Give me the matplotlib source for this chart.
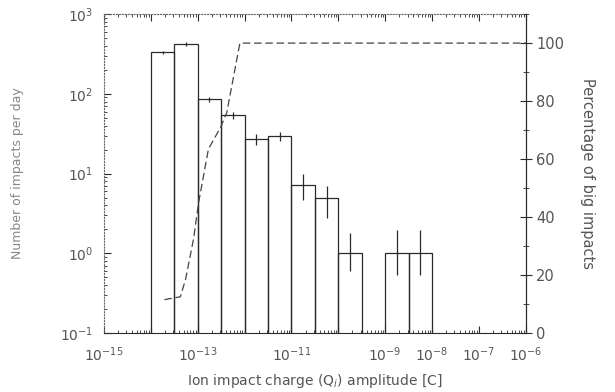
import numpy as np
import matplotlib
matplotlib.use("Agg")
import matplotlib.pyplot as plt
from matplotlib.ticker import FixedLocator, LogLocator, MultipleLocator, NullFormatter

# histogram of impact charges, half-decade bins (log10 of charge in C)
bin_edges_log = [-14.0, -13.5, -13.0, -12.5, -12.0, -11.5, -11.0,
                 -10.5, -10.0, -9.5, -9.0, -8.5, -8.0]
counts = [334, 421, 86, 54, 27, 29.5, 7.2, 4.9, 1.0, 0, 1.0, 1.0]
err_low = [15, 20, 6, 5, 4, 4, 2.6, 2.1, 0.4, 0, 0.47, 0.47]
err_high = [15, 20, 6, 5, 4, 4, 2.6, 2.1, 0.8, 0, 0.95, 0.95]

# percentage of big impacts (right axis)
pct_logq = [-13.71, -13.37, -13.26, -13.09, -12.98, -12.77, -12.51, -12.38, -12.10, -6.0]
pct_values = [11.5, 12.5, 18.4, 32.3, 45, 63.5, 71, 76, 100, 100]

xtick_labeled = [-15, -13, -11, -9, -8, -7, -6]

ink = "#2a2a2a"
txt = "#555555"
plt.rcParams["font.family"] = "DejaVu Sans"

fig = plt.figure(figsize=(6.15, 3.92), dpi=100)
ax = fig.add_axes([0.169, 0.1505, 0.686, 0.8135])
ax.set_xscale("log")
ax.set_yscale("log")

edges = 10.0 ** np.array(bin_edges_log)
counts = np.array(counts)
left = edges[:-1]
width = edges[1:] - edges[:-1]
mask = counts > 0
ax.bar(left[mask], counts[mask], width=width[mask], align="edge",
       fill=False, edgecolor=ink, linewidth=0.9)

centers = 10.0 ** ((np.array(bin_edges_log[:-1]) + np.array(bin_edges_log[1:])) / 2)
ax.errorbar(centers[mask], counts[mask],
            yerr=[np.array(err_low)[mask], np.array(err_high)[mask]],
            fmt="none", ecolor=ink, elinewidth=0.9, capsize=0)

ax.set_xlim(1e-15, 1e-6)
ax.set_ylim(1e-1, 1e3)

ax.xaxis.set_major_locator(FixedLocator(10.0 ** np.arange(-15, -5)))
ax.xaxis.set_minor_locator(LogLocator(base=10, subs=np.arange(2, 10), numticks=30))
ax.xaxis.set_minor_formatter(NullFormatter())
ax.set_xticklabels([r"$10^{%d}$" % e if e in xtick_labeled else ""
                    for e in range(-15, -5)])
ax.yaxis.set_minor_locator(LogLocator(base=10, subs=np.arange(2, 10), numticks=30))
ax.yaxis.set_minor_formatter(NullFormatter())

ax.tick_params(which="both", direction="in", colors=ink, labelcolor=txt,
               labelsize=10, top=True)
ax.tick_params(which="major", length=5)
ax.tick_params(which="minor", length=2.5)
ax.tick_params(axis="x", pad=9)
ax.tick_params(axis="y", pad=8)

for side in ["left", "top"]:
    ax.spines[side].set_linestyle(":")
    ax.spines[side].set_color("#666666")
ax.spines["bottom"].set_color(ink)
ax.spines["right"].set_color(ink)

ax.set_xlabel("Ion impact charge (Q$_i$) amplitude [C]", color=txt, fontsize=10,
              labelpad=6)
ax.set_ylabel("Number of impacts per day", color="#888888", fontsize=9,
              labelpad=26)

ax2 = ax.twinx()
ax2.plot(10.0 ** np.array(pct_logq), pct_values, linestyle=(0, (6, 3)),
         color="#444444", linewidth=0.9)
ax2.set_ylim(0, 110)
ax2.yaxis.set_major_locator(FixedLocator([0, 20, 40, 60, 80, 100]))
ax2.yaxis.set_minor_locator(MultipleLocator(10))
ax2.tick_params(which="both", direction="inout", colors=ink, labelcolor=txt,
                labelsize=10.5)
ax2.tick_params(which="major", length=8)
ax2.tick_params(which="minor", length=5)
for side in ["left", "top", "bottom"]:
    ax2.spines[side].set_visible(False)
ax2.spines["right"].set_color(ink)
ax2.set_ylabel("Percentage of big impacts", color=txt, fontsize=10.5,
               rotation=270, labelpad=22)

fig.savefig("out.png", dpi=100)
